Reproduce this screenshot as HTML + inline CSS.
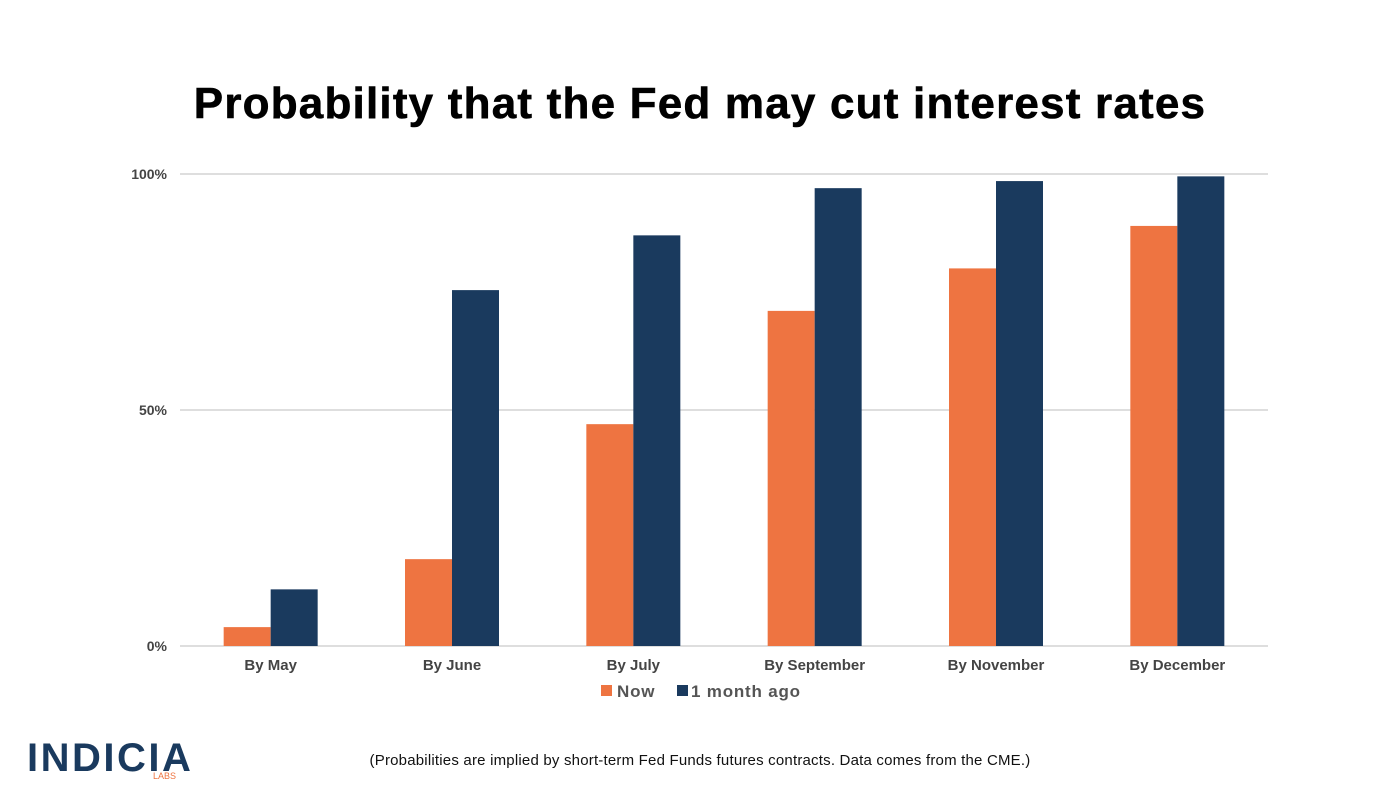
<!DOCTYPE html>
<html><head><meta charset="utf-8"><style>
body{margin:0;width:1400px;height:788px;background:#fff;overflow:hidden;font-family:"Liberation Sans",sans-serif}
</style></head><body>
<svg id="c" width="1400" height="788">
<text x="700" y="118" text-anchor="middle" font-size="44" font-weight="bold" letter-spacing="1.2" fill="#000" stroke="#000" stroke-width="0.6">Probability that the Fed may cut interest rates</text>
<g id="grid"></g><g id="bars"></g><g id="xl"></g>
<g>
<rect x="601" y="685" width="11" height="11" fill="#EE7441"/>
<text x="617" y="697" font-size="17" font-weight="bold" letter-spacing="0.8" fill="#555">Now</text>
<rect x="677" y="685" width="11" height="11" fill="#1A3A5E"/>
<text x="691" y="697" font-size="17" font-weight="bold" letter-spacing="0.8" fill="#555">1 month ago</text>
</g>
<g>
<text x="27" y="771" font-size="40" font-weight="bold" letter-spacing="2.5" fill="#1A3A5E">INDICIA</text>
<text x="153" y="779" font-size="9" fill="#EE7441">LABS</text>
</g>
<text x="700" y="765" text-anchor="middle" font-size="15" letter-spacing="0.2" fill="#111">(Probabilities are implied by short-term Fed Funds futures contracts. Data comes from the CME.)</text>
</svg>
<script>
const categories=["By May","By June","By July","By September","By November","By December"];
const nowValues=[4,18.4,47,71,80,89];
const agoValues=[12,75.4,87,97,98.5,99.5];
const tickValues=[0,50,100];
const tickLabels=["0%","50%","100%"];
const NS="http://www.w3.org/2000/svg";
const x0=180,x1=1268,y0=646,y1=174,bw=47;
const gw=(x1-x0)/categories.length;
const yS=v=>y0-(v/100)*(y0-y1);
const xC=i=>x0+gw*(i+0.5);
function mk(t,a,p){const e=document.createElementNS(NS,t);for(const k in a)e.setAttribute(k,a[k]);p.appendChild(e);return e;}
const grid=document.getElementById('grid'),bars=document.getElementById('bars'),xl=document.getElementById('xl');
tickValues.forEach((v,i)=>{
 const l=mk('line',{x1:x0,x2:x1,y1:yS(v),y2:yS(v),stroke:'#d4d4d4','stroke-width':1.5},grid);
 
 
 const t=mk('text',{x:167,y:yS(v)+5,'text-anchor':'end','font-size':14,'font-weight':'bold',fill:'#444'},grid);
 t.textContent=tickLabels[i];
 
 
});
categories.forEach((c,i)=>{
 const cx=xC(i);
 const a=mk('rect',{x:cx-bw,y:yS(nowValues[i]),width:bw,height:y0-yS(nowValues[i]),fill:'#EE7441'},bars);
 
 
 const b=mk('rect',{x:cx,y:yS(agoValues[i]),width:bw,height:y0-yS(agoValues[i]),fill:'#1A3A5E'},bars);
 
 
 const t=mk('text',{x:cx,y:670,'text-anchor':'middle','font-size':15,'font-weight':'bold',fill:'#444'},xl);
 t.textContent=c;
 
 
});
</script>
</body></html>
